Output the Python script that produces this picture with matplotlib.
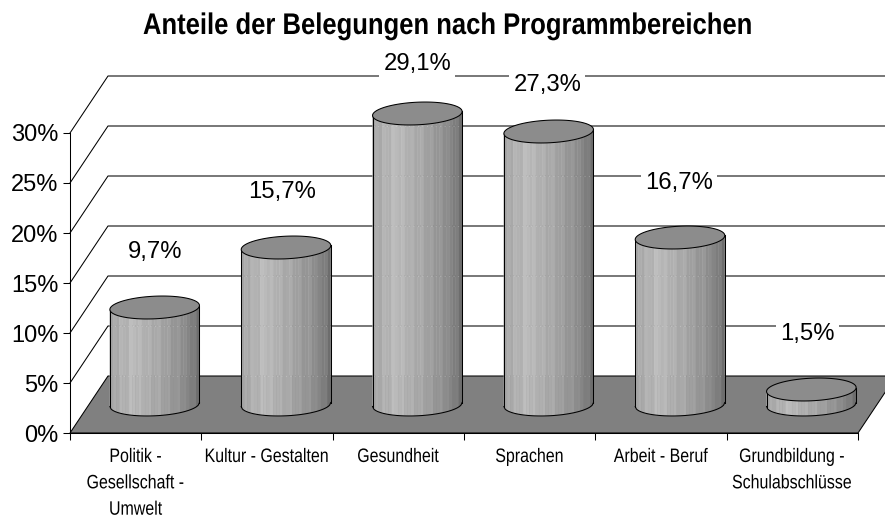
import numpy as np
import matplotlib
matplotlib.use("Agg")
import matplotlib.pyplot as plt
from matplotlib.patches import Polygon
from matplotlib.patheffects import AbstractPathEffect
from matplotlib.transforms import Affine2D

title = "Anteile der Belegungen nach Programmbereichen"
categories = ["Politik -\nGesellschaft -\nUmwelt", "Kultur - Gestalten", "Gesundheit",
              "Sprachen", "Arbeit - Beruf", "Grundbildung -\nSchulabschlüsse"]
values = [9.7, 15.7, 29.1, 27.3, 16.7, 1.5]
value_labels = ["9,7%", "15,7%", "29,1%", "27,3%", "16,7%", "1,5%"]
y_ticks = [0, 5, 10, 15, 20, 25, 30]
y_tick_labels = ["0%", "5%", "10%", "15%", "20%", "25%", "30%"]

# layout / style (oblique projection of the Excel-like 3D chart)
W, H = 885, 528
L, R, B, T = 70, 858, 433, 133
DX, DY = 38 / 131.33, 5.7          # depth offset in data units
A, BB, TILT = 0.341, 1.13, 0.20    # ellipse half-width, half-height, shear
LW = 0.75
LABEL_LIFT = [5.55, 5.55, 4.95, 4.65, 5.45, 5.55]
LABEL_SHIFT = [0.0, -0.03, 0.0, -0.01, -0.01, -0.03]
ARIAL = ["Liberation Sans", "DejaVu Sans"]
G_U = [-1.0, -0.75, -0.45, -0.1, 0.3, 0.65, 0.88, 1.0]
G_V = [162, 175, 186, 172, 157, 140, 124, 102]
STRIPES = [0, 5, -3, 6, 0, -4, 7, 1, -3, 5, -2, 0, 6, -3, 2, 8, -2, 0, 5, -3, 0, 6, -2, 3, 0, -3, 4, 0]


class Condense(AbstractPathEffect):
    """Narrow the glyphs horizontally around a pixel column (Arial Narrow look)."""

    def __init__(self, x0, sx):
        super().__init__()
        self.x0, self.sx = x0, sx

    def draw_path(self, renderer, gc, tpath, affine, rgbFace=None):
        a = affine + Affine2D().translate(-self.x0, 0).scale(self.sx, 1).translate(self.x0, 0)
        renderer.draw_path(gc, tpath, a, rgbFace)


fig = plt.figure(figsize=(W / 100, H / 100), dpi=100, facecolor="white")
ax = fig.add_axes([L / W, (H - B) / H, (R - L) / W, (B - T) / H])
ax.set_xlim(0, len(categories))
ax.set_ylim(0, 30)
ax.patch.set_visible(False)
for s in ("top", "right"):
    ax.spines[s].set_visible(False)
for s in ("left", "bottom"):
    ax.spines[s].set_linewidth(LW)
    ax.spines[s].set_zorder(20)

n = len(categories)
# floor
ax.add_patch(Polygon([(0, 0), (DX, DY), (n + DX, DY), (n, 0)], closed=True, fc="#808080",
                     ec="black", lw=LW, clip_on=False, zorder=1))
# wall grid
for v in y_ticks[1:]:
    ax.plot([0, DX, n + DX], [v, v + DY, v + DY], color="black", lw=LW, clip_on=False, zorder=1)


def cylinder(cx, base, height):
    u = np.linspace(-1, 1, len(STRIPES) + 1)
    lo = lambda t: base - BB * np.sqrt(np.clip(1 - t ** 2, 0, 1)) + TILT * t
    for i, dv in enumerate(STRIPES):
        tt = np.linspace(u[i], u[i + 1], 8)
        g = (np.interp((u[i] + u[i + 1]) / 2, G_U, G_V) + dv) / 255
        xs = cx + A * tt
        ys = lo(tt)
        pts = np.r_[np.c_[xs, ys], np.c_[xs[::-1], ys[::-1] + height]]
        ax.add_patch(Polygon(pts, closed=True, fc=(g, g, g), ec=(g, g, g), lw=0.3, clip_on=False, zorder=3))
    # faint traces of the wall grid through the body
    for gy in [DY] + [t + DY for t in y_ticks[1:]]:
        if base - BB < gy < base + height:
            ax.plot([cx - A, cx + A], [gy, gy], color="white", lw=0.8, alpha=0.22,
                    ls=(0, (1, 3)), clip_on=False, zorder=4)
    tt = np.linspace(-1, 1, 80)
    ax.plot(cx + A * tt, lo(tt), color="black", lw=LW, clip_on=False, zorder=5)
    ax.plot([cx - A, cx - A], [lo(-1.0), lo(-1.0) + height], color="black", lw=LW, clip_on=False, zorder=5)
    ax.plot([cx + A, cx + A], [lo(1.0), lo(1.0) + height], color="black", lw=LW, clip_on=False, zorder=5)
    th = np.linspace(0, 2 * np.pi, 120)
    ax.add_patch(Polygon(np.c_[cx + A * np.cos(th), base + height + BB * np.sin(th) + TILT * np.cos(th)],
                         closed=True, fc="#8c8c8c", ec="black", lw=LW, clip_on=False, zorder=6))


for i, v in enumerate(values):
    cx = i + 0.5 + DX / 2
    cylinder(cx, DY / 2, v)
    ax.text(cx + LABEL_SHIFT[i], DY / 2 + v + LABEL_LIFT[i], value_labels[i], ha="center", va="center",
            fontsize=17.2, family=ARIAL, color="black", zorder=10, clip_on=False,
            bbox=dict(fc="white", ec="none", pad=3.0))

# axes ticks
ax.set_yticks(y_ticks)
ax.set_yticklabels(y_tick_labels, fontsize=17, family=ARIAL)
ax.tick_params(axis="y", length=5, width=LW, pad=3.5, direction="out")
ax.set_xticks(np.arange(n + 1))
ax.set_xticklabels([])
ax.tick_params(axis="x", which="major", length=5, width=LW, direction="out")
ax.set_xticks(np.arange(n) + 0.5, minor=True)
ax.set_xticklabels(categories, minor=True, fontsize=14, family=ARIAL, linespacing=1.72, va="top")
ax.tick_params(axis="x", which="minor", length=0, pad=11.5)
for lab, c in zip(ax.get_xticklabels(minor=True), np.arange(n) + 0.5):
    lab.set_path_effects([Condense(ax.transData.transform((c, 0))[0], 0.82)])

tt_x = 447.5
fig.text(tt_x / W, 1 - 26 / H, title, ha="center", va="center", fontsize=21.5, fontweight="bold",
         family=ARIAL, path_effects=[Condense(tt_x, 0.858)])
fig.savefig("out.png", dpi=100)
